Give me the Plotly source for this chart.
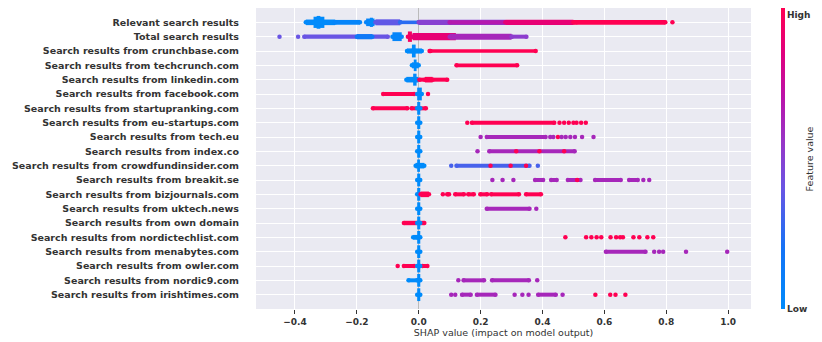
import plotly.graph_objects as go
from plotly.colors import sample_colorscale

# feature names, top to bottom
features = [
    "Relevant search results",
    "Total search results",
    "Search results from crunchbase.com",
    "Search results from techcrunch.com",
    "Search results from linkedin.com",
    "Search results from facebook.com",
    "Search results from startupranking.com",
    "Search results from eu-startups.com",
    "Search results from tech.eu",
    "Search results from index.co",
    "Search results from crowdfundinsider.com",
    "Search results from breakit.se",
    "Search results from bizjournals.com",
    "Search results from uktech.news",
    "Search results from own domain",
    "Search results from nordictechlist.com",
    "Search results from menabytes.com",
    "Search results from owler.com",
    "Search results from nordic9.com",
    "Search results from irishtimes.com",
]

# dense runs of points: feature row, SHAP start, SHAP end, feature value (0 low .. 1 high),
# and how many points are stacked there (beeswarm density)
band_row = [
    0, 0, 0, 0, 0, 0, 0, 0, 0, 0, 0, 0,
    1, 1, 1, 1, 1, 1, 1,
    2, 2, 2,
    3, 3, 3,
    4, 4, 4, 4,
    5, 5,
    6, 6, 6,
    7, 7,
    8, 8,
    9, 9,
    10, 10, 10,
    11, 11, 11, 11, 11, 11,
    12, 12, 12, 12, 12, 12, 12, 12,
    13, 13,
    14, 14,
    15, 15,
    16, 16,
    17, 17, 17,
    18, 18, 18, 18,
    19, 19, 19, 19,
]
band_start = [
    -0.365, -0.34, -0.33, -0.27, -0.17, -0.158, -0.14, -0.06, 0.0, 0.10, 0.28, 0.50,
    -0.37, -0.20, -0.085, -0.035, -0.02, 0.10, 0.30,
    -0.038, -0.022, 0.038,
    -0.022, -0.016, 0.122,
    -0.04, -0.018, 0.002, 0.02,
    -0.115, -0.005,
    -0.148, -0.023, -0.005,
    -0.005, 0.172,
    -0.005, 0.22,
    -0.005, 0.228,
    -0.01, -0.005, 0.122,
    -0.005, 0.376, 0.428, 0.482, 0.57, 0.68,
    -0.005, 0.006, 0.092, 0.118, 0.16, 0.199, 0.234, 0.347,
    -0.005, 0.22,
    -0.048, -0.005,
    -0.018, -0.005,
    -0.005, 0.605,
    -0.048, 0.012, -0.005,
    -0.033, -0.005, 0.145, 0.237,
    -0.005, 0.14, 0.188, 0.386,
]
band_end = [
    -0.27, -0.305, -0.318, -0.19, -0.143, -0.148, -0.06, 0.0, 0.28, 0.30, 0.50, 0.797,
    -0.10, -0.15, -0.055, -0.022, 0.12, 0.30, 0.348,
    0.01, -0.01, 0.378,
    0.0, -0.007, 0.318,
    -0.002, -0.007, 0.092, 0.045,
    -0.015, 0.01,
    -0.037, 0.023, 0.005,
    0.005, 0.438,
    0.005, 0.41,
    0.005, 0.504,
    0.018, 0.004, 0.358,
    0.005, 0.402, 0.446, 0.523, 0.653, 0.708,
    0.005, 0.033, 0.098, 0.146, 0.178, 0.221, 0.324, 0.395,
    0.005, 0.358,
    0.018, 0.005,
    0.0, 0.005,
    0.005, 0.733,
    -0.015, 0.028, 0.005,
    0.0, 0.005, 0.211, 0.356,
    0.005, 0.168, 0.248, 0.443,
]
band_value = [
    0.02, 0.0, 0.0, 0.05, 0.05, 0.02, 0.38, 0.25, 0.5, 0.68, 0.88, 1.0,
    0.40, 0.15, 0.05, 0.95, 0.88, 0.62, 0.52,
    0.0, 0.0, 1.0,
    0.0, 0.0, 1.0,
    0.0, 0.0, 1.0, 1.0,
    1.0, 0.0,
    1.0, 1.0, 0.0,
    0.0, 1.0,
    0.0, 0.62,
    0.0, 0.62,
    0.0, 0.0, 0.32,
    0.0, 0.62, 0.62, 0.62, 0.62, 0.62,
    0.0, 1.0, 1.0, 1.0, 1.0, 1.0, 1.0, 1.0,
    0.0, 0.62,
    1.0, 0.0,
    0.0, 0.0,
    0.0, 0.62,
    1.0, 1.0, 0.0,
    0.0, 0.0, 0.62, 0.62,
    0.0, 0.62, 0.62, 0.62,
]
band_stack = [
    1.4, 2.8, 3.2, 1.2, 1.9, 2.3, 1.5, 0.9, 1.3, 1.1, 1.3, 1.2,
    1.1, 1.3, 2.2, 2.6, 1.8, 1.5, 1.0,
    1.3, 3.2, 0.9,
    1.5, 2.9, 0.9,
    1.4, 3.0, 1.0, 1.4,
    1.0, 3.2,
    1.0, 1.0, 3.2,
    3.2, 1.0,
    3.2, 1.0,
    3.2, 1.0,
    1.4, 3.1, 1.0,
    3.2, 1.0, 1.0, 1.0, 1.0, 1.0,
    3.2, 1.4, 1.0, 1.0, 1.0, 1.0, 1.0, 1.0,
    3.2, 1.0,
    1.1, 3.2,
    1.2, 3.2,
    3.2, 1.0,
    1.0, 1.0, 3.2,
    1.0, 3.2, 1.0, 1.0,
    3.2, 1.0, 1.0, 1.0,
]

# isolated points: feature row, SHAP value, feature value
dot_row = [
    0, 0,
    1, 1,
    2,
    5,
    7, 7, 7, 7, 7, 7, 7, 7,
    8, 8, 8, 8, 8, 8, 8, 8, 8, 8,
    9, 9, 9, 9,
    10, 10, 10, 10, 10,
    11, 11, 11, 11, 11, 11,
    12,
    13,
    15, 15, 15, 15, 15, 15, 15, 15, 15, 15, 15, 15, 15,
    16, 16, 16, 16, 16,
    17,
    18, 18,
    19, 19, 19, 19, 19, 19, 19, 19, 19, 19,
]
dot_x = [
    0.51, 0.82,
    -0.45, -0.39,
    0.035,
    0.03,
    0.157, 0.455, 0.47, 0.485, 0.50, 0.51, 0.525, 0.54,
    0.20, 0.425, 0.435, 0.45, 0.462, 0.475, 0.49, 0.505, 0.528, 0.565,
    0.19, 0.315, 0.39, 0.47,
    0.105, 0.385, 0.232, 0.297, 0.347,
    0.238, 0.271, 0.306, 0.512, 0.726, 0.745,
    0.078,
    0.38,
    0.474, 0.541, 0.558, 0.575, 0.59, 0.62, 0.638, 0.651, 0.66, 0.694, 0.713, 0.739, 0.758,
    0.761, 0.777, 0.79, 0.864, 0.997,
    -0.068,
    0.128, 0.383,
    0.105, 0.118, 0.31, 0.335, 0.355, 0.465, 0.571, 0.619, 0.636, 0.668,
]
dot_value = [
    1.0, 1.0,
    0.40, 0.40,
    1.0,
    1.0,
    1.0, 1.0, 1.0, 1.0, 1.0, 1.0, 1.0, 1.0,
    0.62, 0.62, 0.62, 1.0, 0.62, 0.62, 0.62, 0.62, 0.62, 0.62,
    0.62, 1.0, 1.0, 1.0,
    0.32, 0.32, 1.0, 1.0, 1.0,
    0.62, 0.62, 0.62, 1.0, 0.62, 0.62,
    1.0,
    0.62,
    1.0, 1.0, 1.0, 1.0, 1.0, 1.0, 1.0, 1.0, 1.0, 1.0, 1.0, 1.0, 1.0,
    0.62, 0.62, 0.62, 0.62, 0.62,
    1.0,
    0.62, 0.62,
    0.62, 0.62, 0.62, 0.62, 0.62, 0.62, 1.0, 1.0, 1.0, 1.0,
]

x_ticks = [-0.4, -0.2, 0.0, 0.2, 0.4, 0.6, 0.8, 1.0]

# shap red/blue colour map
shap_scale = [
    [0.0, "rgb(0,139,251)"],
    [0.2, "rgb(20,115,246)"],
    [0.4, "rgb(105,85,228)"],
    [0.55, "rgb(150,55,200)"],
    [0.7, "rgb(185,20,170)"],
    [0.85, "rgb(225,0,125)"],
    [1.0, "rgb(255,0,82)"],
]

FONT = "DejaVu Sans"
TXT = "#333333"
n = len(features)

fig = go.Figure()

# dense runs drawn as thick strokes, end points as single dots
for r, a, b, v, s in zip(band_row, band_start, band_end, band_value, band_stack):
    y = n - 1 - r
    col = sample_colorscale(shap_scale, [v])[0]
    fig.add_trace(go.Scatter(
        x=[a, b], y=[y, y], mode="lines+markers",
        line=dict(color=col, width=4 * s),
        marker=dict(color=col, size=4.5, line=dict(width=0)),
        hoverinfo="skip", showlegend=False,
    ))

# single points, carrying the colour bar
fig.add_trace(go.Scatter(
    x=dot_x, y=[n - 1 - r for r in dot_row], mode="markers",
    marker=dict(
        color=dot_value, colorscale=shap_scale, cmin=0, cmax=1, size=4.5,
        line=dict(width=0), showscale=True,
        colorbar=dict(
            thickness=4, len=1.0, lenmode="fraction",
            x=1.0606, xanchor="left", y=0.5, yanchor="middle",
            xpad=0, ypad=0, outlinewidth=0,
            ticks="", showticklabels=False,
        ),
    ),
    hoverinfo="skip", showlegend=False,
))

# colour bar labels and title as annotations (the top label would be clipped otherwise)
bold = dict(family=FONT, size=9, color=TXT, weight="bold")
fig.add_annotation(text="High", xref="paper", yref="paper", x=1.069, y=1.0,
                   xanchor="left", yanchor="top", showarrow=False, font=bold)
fig.add_annotation(text="Low", xref="paper", yref="paper", x=1.069, y=0.0,
                   xanchor="left", yanchor="middle", showarrow=False, font=bold)
fig.add_annotation(
    text="Feature value", xref="paper", yref="paper", x=1.119, y=0.5,
    xanchor="center", yanchor="middle", textangle=-90, showarrow=False,
    font=dict(family=FONT, size=9.5, color=TXT),
)

# page body adds 8px on top/left, so the figure is 8px smaller
fig.update_layout(
    width=814, height=334,
    margin=dict(l=248, r=71, t=0, b=33),
    paper_bgcolor="white", plot_bgcolor="#EAEAF2",
    font=dict(family=FONT, color=TXT),
)
fig.update_xaxes(
    range=[-0.526, 1.074], tickvals=x_ticks,
    ticktext=[f"{t:.1f}".replace("-", "\u2212") for t in x_ticks],
    showgrid=True, gridcolor="white", gridwidth=1,
    zeroline=True, zerolinecolor="#BBBBBB", zerolinewidth=1,
    ticks="outside", ticklen=4, tickcolor=TXT,
    tickfont=dict(family=FONT, size=9, color=TXT, weight="bold"),
    title=dict(text="SHAP value (impact on model output)", standoff=2,
               font=dict(family=FONT, size=9.5, color=TXT)),
    showline=False,
)
fig.update_yaxes(
    range=[-1, n], tickvals=list(range(n)), ticktext=features[::-1],
    showgrid=True, gridcolor="white", gridwidth=1, zeroline=False,
    ticks="", ticklabelstandoff=16,
    tickfont=dict(family=FONT, size=9.5, color=TXT, weight="bold"),
)

fig.write_html("out.html")
